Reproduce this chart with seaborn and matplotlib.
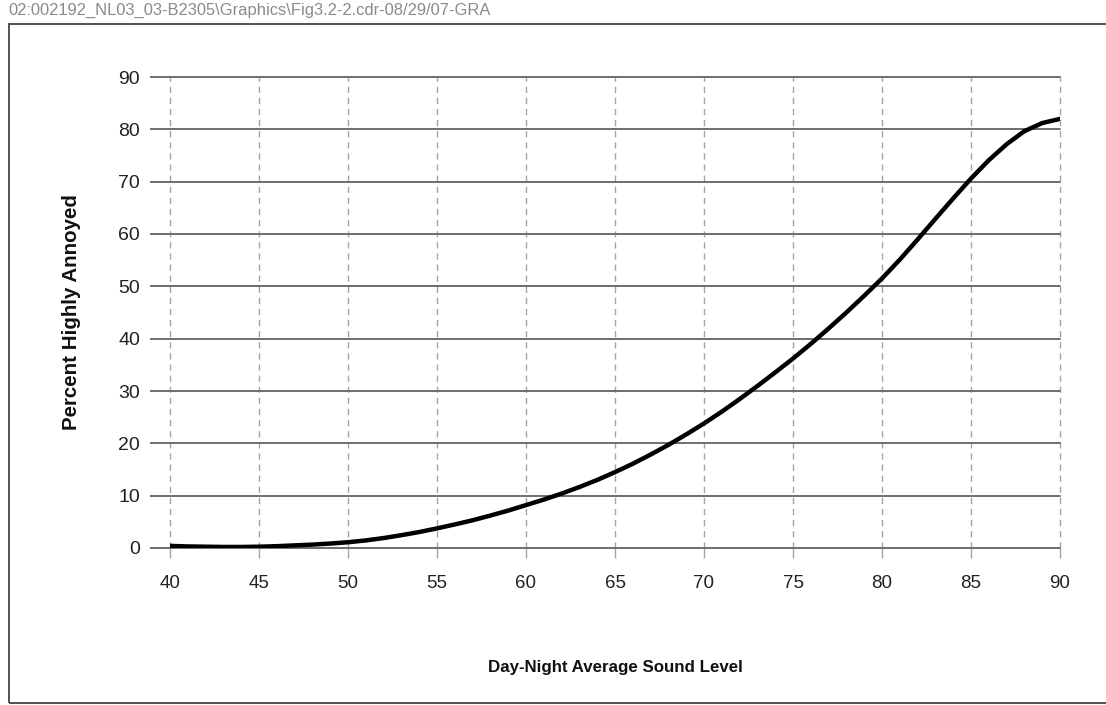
import matplotlib
matplotlib.use("Agg")
import matplotlib.pyplot as plt
import seaborn as sns
import pandas as pd
from matplotlib.patches import Rectangle

# ── Data ─────────────────────────────────────────────────────────────────────
sound_level = [40, 41, 42, 43, 44, 45, 46, 47, 48, 49,
               50, 51, 52, 53, 54, 55, 56, 57, 58, 59,
               60, 61, 62, 63, 64, 65, 66, 67, 68, 69,
               70, 71, 72, 73, 74, 75, 76, 77, 78, 79,
               80, 81, 82, 83, 84, 85, 86, 87, 88, 89, 90]
pct_annoyed = [0.4, 0.3, 0.25, 0.2, 0.2, 0.25, 0.35, 0.5, 0.65, 0.85,
               1.1, 1.45, 1.9, 2.45, 3.05, 3.75, 4.5, 5.3, 6.2, 7.15,
               8.2, 9.25, 10.4, 11.65, 13.0, 14.5, 16.1, 17.85, 19.7, 21.7,
               23.8, 26.05, 28.45, 30.95, 33.55, 36.2, 39.0, 41.95, 45.0, 48.2,
               51.5, 55.1, 58.95, 62.9, 66.8, 70.6, 74.1, 77.15, 79.65, 81.2, 82.0]
x_ticks = [40, 45, 50, 55, 60, 65, 70, 75, 80, 85, 90]
y_ticks = [0, 10, 20, 30, 40, 50, 60, 70, 80, 90]

header = r"02:002192_NL03_03-B2305\Graphics\Fig3.2-2.cdr-08/29/07-GRA"

df = pd.DataFrame({"level": sound_level, "pha": pct_annoyed})

# ── Style ────────────────────────────────────────────────────────────────────
sns.set_style("white")
plt.rcParams["font.family"] = ["Liberation Sans", "DejaVu Sans"]

fig = plt.figure(figsize=(11.06, 7.05), dpi=100)
ax = fig.add_axes([170 / 1106, 1 - 548 / 705, 890 / 1106, 471 / 705])

sns.lineplot(data=df, x="level", y="pha", ax=ax, color="black",
             linewidth=3.2, zorder=5, solid_capstyle="round",
             solid_joinstyle="round")

ax.set_xlim(40, 90)
ax.set_ylim(0, 90)
ax.set_xticks(x_ticks)
ax.set_yticks(y_ticks)

for s in ax.spines.values():
    s.set_visible(False)

ax.yaxis.grid(True, color="#6e6e6e", linewidth=1.4, linestyle="-")
ax.xaxis.grid(True, color="#a4a4a4", linewidth=1.0, linestyle=(0, (4.5, 3.5)))
ax.set_axisbelow(True)
for gl in ax.get_xgridlines() + ax.get_ygridlines():
    gl.set_clip_on(False)

ax.tick_params(axis="y", direction="out", length=14.5, width=1.4,
               color="#6e6e6e", pad=7, labelsize=14, labelcolor="#222222",
               left=True)
ax.tick_params(axis="x", direction="out", length=7.5, width=1.0,
               color="#a4a4a4", pad=12, labelsize=13.5, labelcolor="#222222",
               bottom=True)

ax.set_xlabel("Day-Night Average Sound Level", fontsize=12.2,
              fontweight="bold", labelpad=49, color="#111111")
ax.set_ylabel("Percent Highly Annoyed", fontsize=14.8,
              fontweight="bold", labelpad=27, color="#111111")

# ── Page frame and file header ───────────────────────────────────────────────
fig.patches.append(Rectangle((9 / 1106, 2 / 705), 1.2, 1 - 26 / 705,
                             transform=fig.transFigure, fill=False,
                             edgecolor="#444444", linewidth=1.3,
                             clip_on=False))
fig.text(8 / 1106, 1 - 10 / 705, header, fontsize=11.9, color="#8a8a8a",
         ha="left", va="center")

plt.savefig("out.png", dpi=100)
